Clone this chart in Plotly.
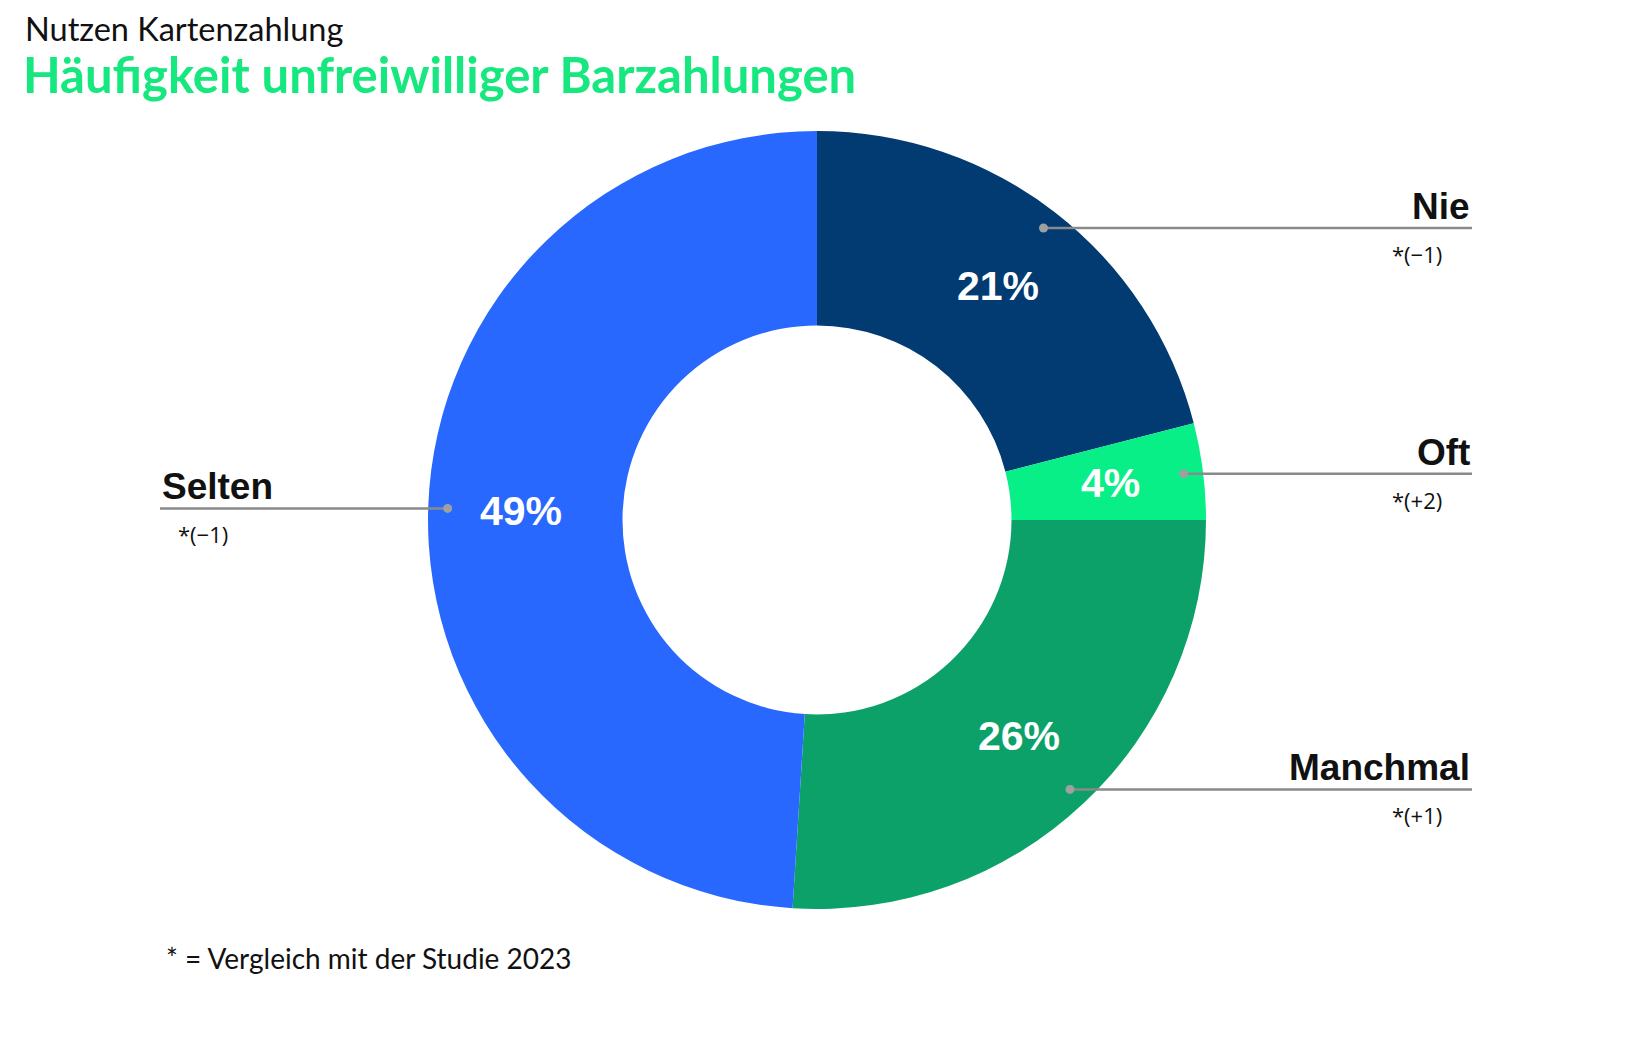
import math
import plotly.graph_objects as go

# ---- data ----
categories = ["Nie", "Oft", "Manchmal", "Selten"]
values = [21, 4, 26, 49]
changes = ["*(−1)", "*(+2)", "*(+1)", "*(−1)"]
colors = ["#023A72", "#08EF88", "#0DA16A", "#2868FE"]

title_top = "Nutzen Kartenzahlung"
title_main = "Häufigkeit unfreiwilliger Barzahlungen"
footnote = "* = Vergleich mit der Studie 2023"

# ---- layout constants (pixels) ----
W, H = 1633, 1042
CX, CY, R = 817, 520, 389
HOLE = 0.5
RIGHT_END = 1472
LEFT_START = 160


def px(x):
    return x / W


def py(y):
    return 1 - y / H


fig = go.Figure()

fig.add_trace(go.Pie(
    labels=categories,
    values=values,
    sort=False,
    direction="clockwise",
    rotation=0,
    hole=HOLE,
    marker=dict(colors=colors, line=dict(width=0)),
    textinfo="none",
    domain=dict(x=[px(CX - R), px(CX + R)], y=[py(CY + R), py(CY - R)]),
    showlegend=False,
    hoverinfo="label+percent",
))

total = sum(values)
cum = 0
annotations = []
shapes = []
r_text = (HOLE * R + R) / 2 + 4
for cat, v, ch in zip(categories, values, changes):
    mid = (cum + v / 2) / total
    cum += v
    th = 2 * math.pi * mid
    s, c = math.sin(th), math.cos(th)
    # percentage label inside the ring
    annotations.append(dict(
        x=px(CX + r_text * s), y=py(CY - r_text * c), xref="paper", yref="paper",
        xanchor="center", yanchor="middle", showarrow=False,
        text=f"<b>{v}%</b>",
        font=dict(family="Liberation Sans, Arial, sans-serif", size=41, color="white"),
    ))
    dx = CX + 0.95 * R * s
    dy = CY - 0.95 * R * c
    right = s > 0
    end_x = RIGHT_END if right else LEFT_START
    shapes.append(dict(
        type="line", xref="paper", yref="paper", layer="above",
        x0=px(dx), y0=py(dy), x1=px(end_x), y1=py(dy),
        line=dict(color="#8a8a8a", width=2.5),
    ))
    shapes.append(dict(
        type="circle", xref="paper", yref="paper", layer="above",
        x0=px(dx - 4.5), x1=px(dx + 4.5), y0=py(dy + 4.5), y1=py(dy - 4.5),
        fillcolor="#a0a0a0", line=dict(width=0),
    ))
    annotations.append(dict(
        x=px(end_x), y=py(dy), xref="paper", yref="paper",
        xanchor="right" if right else "left", yanchor="bottom",
        text=f"<b>{cat}</b>", showarrow=False, yshift=-1,
        font=dict(family="Liberation Sans, Arial, sans-serif", size=37, color="#111111"),
    ))
    annotations.append(dict(
        x=px(end_x - 55 if right else end_x + 43), y=py(dy + 26), xref="paper", yref="paper",
        xanchor="center", yanchor="middle",
        text=ch, showarrow=False,
        font=dict(family="Open Sans, Noto Sans, sans-serif", size=22, color="#111111"),
    ))

annotations.append(dict(
    x=px(23), y=py(29), xref="paper", yref="paper", xanchor="left", yanchor="middle",
    text=title_top, showarrow=False,
    font=dict(family="Lato, sans-serif", size=32.5, color="#111111"),
))
annotations.append(dict(
    x=px(21), y=py(74), xref="paper", yref="paper", xanchor="left", yanchor="middle",
    text=f"<b>{title_main}</b>", showarrow=False,
    font=dict(family="Lato, sans-serif", size=49, color="#16E77F"),
))
annotations.append(dict(
    x=px(164), y=py(958), xref="paper", yref="paper", xanchor="left", yanchor="middle",
    text=footnote, showarrow=False,
    font=dict(family="Lato, sans-serif", size=28, color="#111111"),
))

fig.update_layout(
    width=W, height=H,
    margin=dict(l=0, r=0, t=0, b=0),
    paper_bgcolor="white", plot_bgcolor="rgba(0,0,0,0)",
    annotations=annotations,
    shapes=shapes,
)

fig.write_html("out.html")
